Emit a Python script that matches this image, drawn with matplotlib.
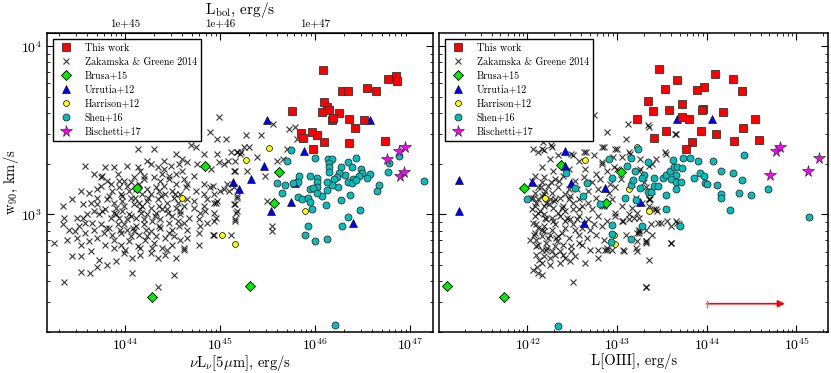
import numpy as np
import matplotlib
matplotlib.use('Agg')
import matplotlib.pyplot as plt
from matplotlib.ticker import FuncFormatter, NullFormatter, LogLocator

plt.rcParams['font.family'] = 'serif'
plt.rcParams['font.serif'] = ['cmr10', 'DejaVu Serif']
plt.rcParams['mathtext.fontset'] = 'cm'
plt.rcParams['axes.formatter.use_mathtext'] = True
plt.rcParams['axes.unicode_minus'] = False

# ---------------- DATA (log10 values) ----------------
# This work
tw_logL5 = [46.08, 46.77, 46.85, 46.86, 46.28, 46.34, 46.54, 46.64, 45.76, 46.09, 46.12, 46.07, 46.14, 46.25,
            46.18, 46.19, 46.36, 46.51, 46.42, 45.85, 45.87, 45.97, 46.02, 46.09, 46.36, 45.98, 46.74]
tw_logw_L = [3.857, 3.802, 3.822, 3.792, 3.734, 3.733, 3.750, 3.731, 3.614, 3.669, 3.639, 3.610, 3.620, 3.604,
             3.560, 3.570, 3.564, 3.560, 3.511, 3.485, 3.452, 3.487, 3.471, 3.431, 3.425, 3.386, 3.437]
tw_logO3 = [43.47, 44.09, 44.29, 43.67, 43.97, 43.89, 44.39, 43.53, 43.34, 43.72, 43.58, 43.40, 43.96, 43.95,
            44.18, 43.22, 43.72, 43.80, 44.54, 43.54, 43.94, 44.10, 44.40, 43.41, 44.30, 44.58, 43.83, 43.77]
tw_logw_O = [3.863, 3.832, 3.806, 3.798, 3.756, 3.739, 3.734, 3.743, 3.673, 3.655, 3.619, 3.616, 3.627, 3.620,
             3.608, 3.564, 3.580, 3.568, 3.564, 3.493, 3.495, 3.477, 3.513, 3.453, 3.437, 3.443, 3.428, 3.390]

# Bischetti+17
bi_logL5 = [46.76, 46.88, 46.95, 46.89, 46.94]
bi_logw_L = [3.329, 3.376, 3.400, 3.231, 3.254]
bi_logO3 = [44.77, 44.82, 44.70, 45.13, 45.25]
bi_logw_O = [3.378, 3.402, 3.232, 3.259, 3.335]

# Brusa+15
br_logL5 = [44.84, 45.62, 44.12, 45.57, 45.31, 44.28]
br_logw_L = [3.289, 3.251, 3.154, 3.069, 2.576, 2.510]
br_logO3 = [42.37, 43.04, 41.96, 42.88, 41.10, 41.74]
br_logw_O = [3.295, 3.253, 3.156, 3.069, 2.574, 2.507]

# Urrutia+12
ur_logL5 = [45.49, 46.58, 45.88, 45.46, 45.32, 45.13, 45.20, 45.79, 45.74, 45.53, 46.40]
ur_logw_L = [3.559, 3.560, 3.378, 3.287, 3.208, 3.195, 3.153, 3.186, 3.073, 3.021, 2.950]
ur_logO3 = [43.67, 44.06, 42.42, 42.42, 41.24, 42.05, 42.49, 42.87, 43.26, 41.24, 42.63]
ur_logw_O = [3.568, 3.568, 3.379, 3.290, 3.207, 3.195, 3.189, 3.154, 3.075, 3.021, 2.948]

# Harrison+12
ha_logL5 = [45.51, 45.27, 45.82, 44.60, 45.89, 45.02, 45.16]
ha_logw_L = [3.397, 3.321, 3.204, 3.098, 3.021, 2.876, 2.824]
ha_logO3 = [43.22, 42.64, 43.13, 42.20, 43.36, 42.97, 42.98]
ha_logw_O = [3.402, 3.323, 3.148, 3.100, 3.021, 2.877, 2.825]

# Shen+16
sh_logL5 = [45.75, 45.70, 46.00, 46.13, 46.18, 46.14, 46.15, 46.14, 46.27, 46.34, 46.43, 46.39, 46.48, 46.49,
            46.46, 46.40, 46.34, 46.31, 46.25, 46.23, 46.20, 46.24, 46.18, 46.12, 46.12, 46.07, 46.02, 46.02,
            46.02, 45.94, 45.83, 45.82, 45.94, 45.98, 46.02, 45.82, 45.86, 45.92, 45.95, 46.11, 46.27, 46.37,
            46.39, 46.43, 46.58, 46.54, 46.67, 46.65, 46.77, 46.78, 46.88, 47.15, 45.60, 45.68, 45.65, 45.77,
            45.97, 46.34, 46.28, 45.92, 45.89, 46.00, 46.12, 46.47, 46.21]
sh_logw_L = [3.382, 3.319, 3.333, 3.327, 3.329, 3.303, 3.279, 3.253, 3.279, 3.313, 3.337, 3.283, 3.269, 3.243,
             3.228, 3.210, 3.194, 3.234, 3.243, 3.220, 3.208, 3.164, 3.174, 3.194, 3.145, 3.109, 3.218, 3.194,
             3.160, 3.230, 3.230, 3.194, 3.148, 3.154, 3.125, 3.105, 3.089, 3.095, 3.075, 3.055, 3.085, 3.115,
             3.184, 3.204, 3.240, 3.214, 3.174, 3.141, 3.253, 3.307, 3.348, 3.198, 3.184, 3.174, 3.129, 3.184,
             3.030, 2.982, 2.933, 2.933, 2.877, 2.843, 2.853, 3.024, 2.342]
sh_logO3 = [43.23, 42.91, 43.16, 43.34, 43.62, 43.74, 43.81, 43.90, 44.07, 44.42, 43.11, 43.20, 43.30, 43.28,
            43.41, 43.51, 43.54, 43.59, 43.63, 43.67, 43.72, 43.66, 43.60, 43.66, 43.71, 43.86, 43.92, 43.97,
            43.98, 44.00, 44.11, 44.16, 44.29, 44.39, 44.16, 44.16, 44.36, 44.49, 44.68, 44.26, 43.70, 43.54,
            43.54, 43.66, 43.41, 43.46, 43.34, 43.38, 43.26, 43.15, 43.18, 42.94, 42.66, 42.43, 42.53, 42.62,
            42.81, 43.09, 43.21, 43.28, 42.94, 42.94, 43.15, 42.93, 42.00, 45.14, 42.34]
sh_logw_O = [3.386, 3.327, 3.333, 3.313, 3.323, 3.337, 3.337, 3.317, 3.319, 3.352, 3.287, 3.257, 3.234, 3.214,
             3.218, 3.218, 3.234, 3.257, 3.283, 3.283, 3.273, 3.234, 3.208, 3.194, 3.194, 3.218, 3.243, 3.230,
             3.184, 3.178, 3.174, 3.259, 3.243, 3.204, 3.119, 3.095, 3.125, 3.113, 3.148, 3.026, 2.933, 3.032,
             3.113, 3.148, 3.168, 3.168, 3.135, 3.131, 3.154, 3.174, 3.204, 3.218, 3.184, 3.243, 3.154, 3.111,
             3.059, 3.099, 3.085, 2.933, 2.937, 2.881, 2.853, 2.838, 3.089, 2.982, 2.338]

# Zakamska & Greene 2014 (left panel: nuL_nu[5um])
zg_logL5 = [44.89, 44.97, 45.06, 44.13, 44.30, 44.69, 44.74, 44.53, 44.83, 44.97, 45.11, 45.18, 45.21, 45.25,
            44.60, 44.41, 44.23, 43.58, 43.79, 43.88, 44.02, 44.13, 44.27, 44.34, 44.48, 44.57, 44.65, 44.76,
            44.90, 44.99, 45.04, 45.14,
            43.67, 43.76, 43.81, 43.92, 43.99, 44.09, 44.20, 44.30, 44.39, 44.46, 44.53, 44.62, 44.72, 44.83,
            44.92, 45.00, 45.18, 45.09, 45.04,
            43.53, 43.70, 43.74, 43.86, 43.93, 44.02, 44.14, 44.23, 44.32, 44.41, 44.49, 44.64, 44.74, 44.83,
            44.93, 44.97, 45.14,
            43.34, 43.44, 43.55, 43.64, 43.70, 43.81, 43.88, 43.97, 44.06, 44.14, 44.23, 44.34, 44.44, 44.55,
            44.65, 44.72, 44.83, 44.93, 45.18, 45.16,
            43.35, 43.49, 43.60, 43.67, 43.79, 43.88, 43.97, 44.06, 44.16, 44.23, 44.32, 44.39, 44.49, 44.58,
            44.67, 44.78, 44.86, 44.95,
            43.25, 43.34, 43.41, 43.51, 43.58, 43.67, 43.74, 43.83, 43.92, 44.02, 44.11, 44.20, 44.27, 44.37,
            44.46, 44.57, 44.65, 44.78, 44.92, 44.79,
            43.39, 43.49, 43.53, 43.62, 43.70, 43.79, 43.88, 43.95, 44.04, 44.13, 44.21, 44.30, 44.39, 44.49,
            44.58, 44.62, 44.78,
            43.44, 43.53, 43.64, 43.72, 43.81, 43.90, 43.99, 44.07, 44.16, 44.27, 44.34, 44.42, 44.53, 44.62,
            43.53, 43.63, 43.70, 44.07, 44.51, 43.35, 44.34,
            43.85, 43.95, 44.04, 44.11, 44.18, 44.27, 44.35, 44.42, 44.51, 44.58, 43.90, 43.99, 44.09, 44.18,
            44.27, 44.35, 44.44, 44.53, 44.62, 43.85, 43.93, 44.02, 44.11, 44.20, 44.28, 44.37, 44.46, 44.55,
            44.62, 43.78, 43.86, 43.95, 44.06, 44.14, 44.23, 44.32, 44.42, 44.51, 43.99, 44.09, 43.93, 44.06,
            44.37, 44.16, 44.41, 44.60, 44.65, 43.65, 43.72, 43.58, 44.65, 44.72, 44.79, 44.53, 43.70,
            44.99, 45.27, 45.43, 45.56, 45.72, 45.79, 45.70, 45.30, 45.18, 45.22, 45.39, 45.08, 45.16, 45.16,
            45.28, 45.47, 45.60, 45.66, 45.81,
            45.07, 45.14, 45.18, 45.16, 45.17, 45.16, 44.93, 44.93, 45.11, 45.49, 45.54, 45.55, 44.93, 44.95,
            44.86, 44.84, 44.89,
            43.83, 43.97, 44.10, 44.24, 44.38, 44.52, 43.76, 43.90, 44.04, 44.17, 44.31, 44.45, 44.58,
            43.80, 43.94, 44.08, 44.22, 44.35, 44.49, 43.88, 44.00, 44.15, 44.28, 44.44,
            43.62, 43.74, 44.20, 44.46, 43.55, 43.47]
zg_logw_L = [3.49, 3.45, 3.45, 3.39, 3.39, 3.41, 3.40, 3.36, 3.36, 3.36, 3.37, 3.37, 3.36, 3.40,
             3.33, 3.32, 3.32, 3.29, 3.28, 3.28, 3.29, 3.28, 3.30, 3.28, 3.29, 3.30, 3.31, 3.30,
             3.27, 3.31, 3.30, 3.26,
             3.24, 3.23, 3.20, 3.24, 3.20, 3.22, 3.23, 3.22, 3.24, 3.21, 3.24, 3.21, 3.23, 3.18,
             3.17, 3.14, 3.10, 3.14, 3.15,
             3.14, 3.15, 3.17, 3.14, 3.16, 3.17, 3.18, 3.15, 3.16, 3.17, 3.14, 3.16, 3.14, 3.12,
             3.12, 3.08, 3.06,
             3.05, 3.09, 3.06, 3.07, 3.10, 3.09, 3.07, 3.08, 3.10, 3.07, 3.08, 3.09, 3.07, 3.07,
             3.09, 3.04, 3.05, 3.07, 3.02, 2.97,
             2.98, 2.98, 3.00, 3.02, 3.03, 3.01, 3.02, 2.99, 3.03, 3.00, 3.01, 3.03, 2.99, 3.00,
             2.98, 2.97, 2.95, 2.98,
             2.83, 2.94, 2.91, 2.93, 2.95, 2.91, 2.94, 2.92, 2.94, 2.91, 2.93, 2.94, 2.90, 2.92,
             2.89, 2.93, 2.91, 2.89, 2.88, 2.93,
             2.85, 2.86, 2.82, 2.84, 2.86, 2.82, 2.85, 2.82, 2.84, 2.81, 2.85, 2.83, 2.80, 2.82,
             2.85, 2.80, 2.82,
             2.75, 2.75, 2.78, 2.73, 2.70, 2.72, 2.77, 2.74, 2.76, 2.77, 2.74, 2.76, 2.74, 2.79,
             2.66, 2.65, 2.69, 2.65, 2.64, 2.60, 2.57,
             3.18, 3.12, 3.14, 3.15, 3.12, 3.12, 3.14, 3.12, 3.10, 3.12, 3.04, 3.05, 3.06, 3.05,
             3.04, 3.05, 3.03, 3.04, 3.05, 2.98, 2.98, 2.97, 2.98, 2.97, 2.96, 2.97, 2.95, 2.96,
             2.95, 2.89, 2.88, 2.89, 2.87, 2.88, 2.87, 2.87, 2.86, 2.87, 2.94, 2.90, 3.20, 3.19,
             3.20, 3.26, 3.27, 3.26, 3.18, 2.95, 3.00, 2.89, 2.86, 3.08, 3.01, 3.18, 3.06,
             3.58, 3.47, 3.47, 3.54, 3.51, 3.52, 3.39, 3.40, 3.37, 3.37, 3.34, 3.32, 3.32, 3.26,
             3.26, 3.23, 3.32, 3.33, 3.45,
             3.18, 3.16, 3.11, 3.06, 3.01, 2.96, 2.96, 2.88, 2.88, 3.08, 2.93, 2.90, 3.01, 3.07,
             3.09, 3.02, 3.16,
             3.11, 3.11, 3.10, 3.10, 3.11, 3.12, 3.02, 3.00, 3.00, 3.01, 2.99, 3.01, 3.02,
             2.92, 2.91, 2.92, 2.91, 2.93, 2.91, 2.80, 2.79, 2.80, 2.80, 2.79,
             3.13, 3.22, 3.21, 3.23, 2.98, 2.90]

# Zakamska & Greene 2014 (right panel: L[OIII])
zg_logO3 = [42.12, 42.18, 42.25, 42.34, 42.49, 42.57, 42.64, 42.74, 42.83, 42.95, 43.06, 43.13, 43.26, 43.36,
            43.43, 42.16, 42.29, 42.46, 42.76, 42.89, 43.00, 43.24,
            42.08, 42.19, 42.31, 42.40, 42.53, 42.63, 42.72, 42.81, 42.92, 43.04, 42.12, 42.23, 42.34, 42.46,
            42.55, 42.68, 42.79, 42.91, 42.98, 43.17, 43.32, 43.39,
            42.06, 42.16, 42.25, 42.36, 42.46, 42.57, 42.68, 42.76, 42.85, 42.94, 42.08, 42.18, 42.29, 42.40,
            42.51, 42.61, 42.72, 43.06, 43.17, 43.28, 43.37, 43.43,
            42.08, 42.18, 42.27, 42.36, 42.48, 42.57, 42.68, 42.79, 42.89, 42.98, 42.10, 42.19, 42.31, 42.42,
            42.51, 42.61, 42.70, 42.83, 43.13, 43.22, 43.32, 43.22, 43.07,
            42.08, 42.16, 42.25, 42.34, 42.46, 42.57, 42.66, 42.76, 42.85, 42.12, 42.21, 42.31, 42.40, 42.49,
            42.61, 42.70, 42.79, 42.89, 43.07, 43.22, 43.32, 43.21,
            42.10, 42.19, 42.31, 42.42, 42.53, 42.64, 42.16, 42.25, 42.36, 42.48, 42.79, 42.87, 42.06, 42.12,
            42.16, 42.51, 43.32,
            42.12, 42.21, 42.12, 42.21, 42.16, 42.27, 42.21, 42.27, 42.16, 42.38, 42.27, 42.34, 42.42, 42.08,
            42.16, 42.31, 42.42, 42.51, 42.42, 42.33, 42.53, 42.23, 42.36, 42.49, 42.57, 42.10, 42.18, 42.63,
            42.74,
            42.74, 43.12, 43.34, 43.35, 42.89, 43.10, 43.64, 43.66, 43.54, 43.00, 42.83, 42.06, 42.16, 42.26,
            42.17, 42.51, 42.65, 42.85, 43.14, 43.39, 43.53, 42.98, 42.63, 42.27,
            43.06, 43.19, 43.24, 43.24, 43.24, 43.36, 43.39, 43.45, 43.49, 43.56, 43.66, 43.69, 43.60, 43.32,
            43.10, 43.08, 43.22, 43.36, 43.32, 42.94, 42.89,
            43.21, 43.36, 43.46, 43.60, 43.67, 43.38, 43.24, 43.32, 43.60, 42.83, 42.98, 43.13, 42.83, 42.96,
            43.26, 43.30, 43.36, 43.41,
            42.05, 42.10, 42.14, 42.06, 42.09, 42.13, 42.20, 42.24, 42.18, 42.22, 42.29, 42.32, 42.26, 42.38,
            42.44, 42.40, 42.35, 42.47, 42.55, 42.58, 42.05, 42.07, 42.12, 42.15, 42.20, 42.25, 42.30, 42.04,
            42.03, 42.11]
zg_logw_O = [3.37, 3.38, 3.33, 3.35, 3.36, 3.32, 3.27, 3.35, 3.30, 3.34, 3.34, 3.37, 3.33, 3.29,
             3.33, 3.28, 3.26, 3.27, 3.24, 3.26, 3.27, 3.26,
             3.23, 3.22, 3.21, 3.23, 3.20, 3.22, 3.19, 3.21, 3.18, 3.21, 3.16, 3.17, 3.16, 3.15,
             3.15, 3.14, 3.15, 3.13, 3.16, 3.18, 3.16, 3.14,
             3.10, 3.11, 3.09, 3.10, 3.09, 3.09, 3.07, 3.10, 3.05, 3.09, 3.05, 3.05, 3.04, 3.05,
             3.03, 3.05, 3.03, 3.05, 3.04, 3.07, 3.09, 3.03,
             2.99, 3.00, 2.98, 2.99, 2.97, 2.99, 2.97, 2.99, 2.96, 2.99, 2.94, 2.93, 2.94, 2.92,
             2.94, 2.92, 2.91, 2.93, 2.97, 3.01, 2.91, 2.89, 2.96,
             2.89, 2.87, 2.88, 2.87, 2.86, 2.88, 2.86, 2.88, 2.85, 2.82, 2.83, 2.81, 2.82, 2.81,
             2.82, 2.79, 2.79, 2.80, 2.79, 2.84, 2.84, 2.80,
             2.76, 2.75, 2.76, 2.74, 2.75, 2.71, 2.71, 2.70, 2.71, 2.72, 2.74, 2.79, 2.67, 2.65,
             2.64, 2.60, 2.57,
             3.09, 3.07, 3.01, 2.97, 2.91, 2.91, 2.79, 2.78, 2.79, 2.89, 3.13, 3.01, 3.02, 3.13,
             3.19, 3.09, 3.12, 3.07, 2.96, 2.84, 2.91, 2.86, 2.78, 2.78, 2.83, 2.85, 3.12, 2.94,
             2.94,
             3.59, 3.54, 3.53, 3.52, 3.49, 3.45, 3.48, 3.48, 3.36, 3.39, 3.40, 3.39, 3.39, 3.41,
             3.43, 3.35, 3.37, 3.40, 3.36, 3.30, 3.37, 3.39, 3.37, 3.40,
             2.96, 2.98, 2.98, 2.91, 2.89, 3.09, 2.88, 3.02, 2.95, 2.96, 2.96, 2.94, 2.83, 2.84,
             2.88, 2.78, 2.78, 2.73, 2.57, 2.79, 2.79,
             3.10, 3.09, 2.95, 2.93, 2.95, 2.94, 2.90, 2.83, 2.83, 3.05, 3.01, 3.00, 3.31, 3.28,
             3.27, 3.19, 3.05, 3.03,
             3.20, 3.07, 3.02, 2.95, 2.81, 2.73, 3.14, 3.06, 2.90, 2.80, 2.96, 2.86, 3.19, 3.04,
             2.98, 2.76, 3.20, 3.11, 2.97, 3.03, 3.03, 2.88, 2.92, 3.16, 2.98, 2.74, 3.08, 3.10,
             2.85, 2.69]

# Lower-limit arrow (right panel)
arrow_logstart = 44.0
arrow_logend = 44.87
arrow_logw = 2.469

labels = ['This work', 'Zakamska & Greene 2014', 'Brusa+15', 'Urrutia+12',
          'Harrison+12', 'Shen+16', 'Bischetti+17']
top_ticks = [1e45, 1e46, 1e47]

# ---------------- PLOT ----------------
def p(a):
    return np.power(10.0, np.asarray(a, dtype=float))

fig = plt.figure(figsize=(8.31, 3.73), dpi=100)
ax1 = fig.add_axes([0.0566, 0.110, 0.4645, 0.802])
ax2 = fig.add_axes([0.5286, 0.110, 0.4681, 0.802], sharey=ax1)

styles = dict(
    tw=dict(marker='s', color='red', ms=6.4, mec='#333333', mew=0.6, zorder=8),
    zg=dict(marker='x', color='black', ms=4.6, mew=0.85, alpha=0.75, zorder=2),
    br=dict(marker='D', color='#00ee00', ms=5.0, mec='black', mew=0.6, zorder=4),
    ur=dict(marker='^', color='blue', ms=5.2, mec='black', mew=0.4, zorder=4),
    ha=dict(marker='o', color='yellow', ms=4.2, mec='black', mew=0.5, zorder=4),
    sh=dict(marker='o', color='#00bfbf', ms=5.0, mec='#333333', mew=0.6, zorder=5),
    bi=dict(marker='*', color='magenta', ms=8.5, mec='#333333', mew=0.5, zorder=6),
)

def draw(ax, sets):
    handles = []
    for key, (x, y), lab in zip(['tw', 'zg', 'br', 'ur', 'ha', 'sh', 'bi'], sets, labels):
        h, = ax.plot(p(x), p(y), ls='none', label=lab, **styles[key])
        handles.append(h)
    leg = ax.legend(handles=handles, loc='upper left', fontsize=7.2, numpoints=1,
                    fancybox=False, framealpha=1, edgecolor='black',
                    borderpad=0.45, labelspacing=0.45, handletextpad=1.1,
                    borderaxespad=0.6, handlelength=1.6)
    leg.get_frame().set_linewidth(1.0)
    leg.set_zorder(20)

draw(ax1, [(tw_logL5, tw_logw_L), (zg_logL5, zg_logw_L), (br_logL5, br_logw_L),
           (ur_logL5, ur_logw_L), (ha_logL5, ha_logw_L), (sh_logL5, sh_logw_L),
           (bi_logL5, bi_logw_L)])
draw(ax2, [(tw_logO3, tw_logw_O), (zg_logO3, zg_logw_O), (br_logO3, br_logw_O),
           (ur_logO3, ur_logw_O), (ha_logO3, ha_logw_O), (sh_logO3, sh_logw_O),
           (bi_logO3, bi_logw_O)])

# arrow
ax2.annotate('', xy=(p(arrow_logend), p(arrow_logw)), xytext=(p(arrow_logstart), p(arrow_logw)),
             arrowprops=dict(arrowstyle='-|>', color='red', lw=1.2, mutation_scale=10,
                             shrinkA=0, shrinkB=0), zorder=9)
ax2.plot(p(arrow_logstart), p(arrow_logw), marker='|', color='#ff6666', ms=6, mew=1.0, zorder=9)

for ax in (ax1, ax2):
    ax.set_xscale('log')
    ax.set_yscale('log')
    for s in ax.spines.values():
        s.set_linewidth(1.1)
    ax.tick_params(which='major', direction='in', length=5, width=0.8, labelsize=10,
                   right=True, top=(ax is ax2))
    ax.tick_params(which='minor', direction='in', length=2.5, width=0.6,
                   right=True, top=(ax is ax2))
    ax.xaxis.set_minor_locator(LogLocator(base=10, subs=np.arange(2, 10), numticks=20))
    ax.yaxis.set_minor_locator(LogLocator(base=10, subs=np.arange(2, 10), numticks=20))

ax1.set_ylim(200, 12000)
ax1.set_xlim(1.5e43, 1.74e47)
ax2.set_xlim(1.04e41, 2.26e45)
ax2.tick_params(labelleft=False)

ax1.set_xlabel(r'$\nu$L$_\nu$[5$\mu$m], erg/s', fontsize=10.5, labelpad=0)
ax2.set_xlabel('L[OIII], erg/s', fontsize=10.5, labelpad=0)
ax1.set_ylabel(r'w$_{90}$, km/s', fontsize=10.5, labelpad=0)

sec = ax1.secondary_xaxis('top', functions=(lambda x: x * 10.0, lambda x: x / 10.0))
sec.set_xticks(top_ticks)
sec.xaxis.set_major_formatter(FuncFormatter(lambda v, pos: '1e+%d' % int(round(np.log10(v)))))
sec.xaxis.set_minor_formatter(NullFormatter())
sec.tick_params(which='major', direction='in', length=5, width=0.8, labelsize=8, pad=3)
sec.tick_params(which='minor', direction='in', length=2.5, width=0.6)
sec.set_xlabel(r'L$_{\rm bol}$, erg/s', fontsize=11, labelpad=4)

fig.savefig('out.png', dpi=100)
